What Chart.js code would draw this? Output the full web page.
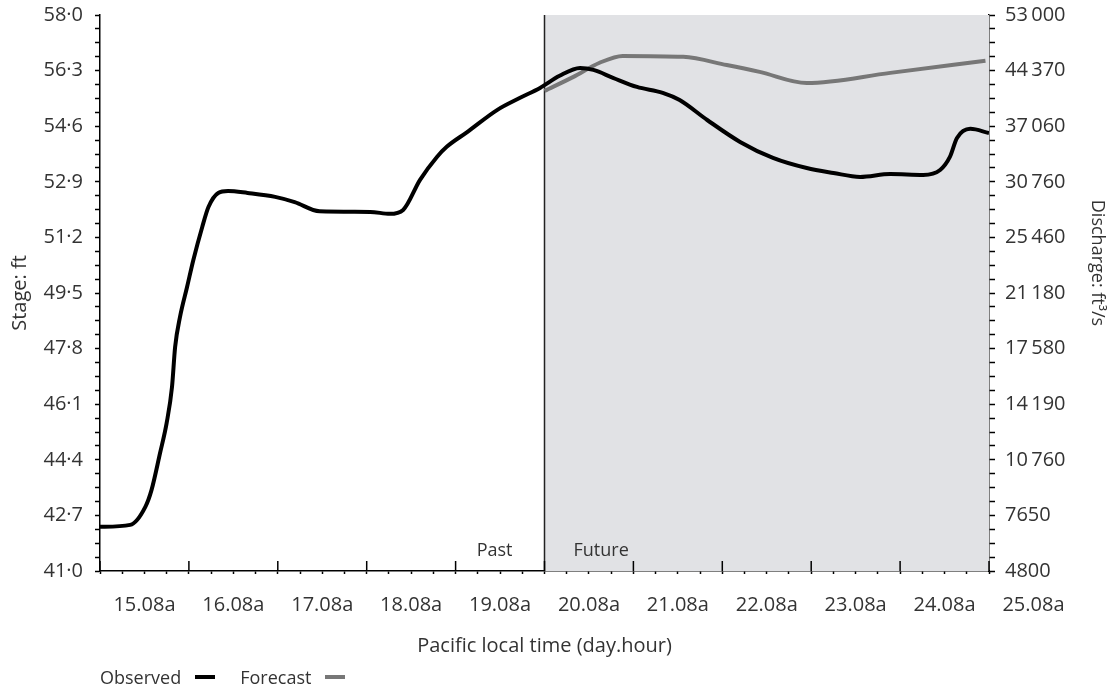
<!DOCTYPE html>
<html>
<head>
<meta charset="utf-8">
<script src="https://cdn.jsdelivr.net/npm/chart.js@4.4.1/dist/chart.umd.min.js"></script>
<style>
  html, body { margin: 0; padding: 0; background: #fff; }
  #wrap { position: relative; width: 1114px; height: 690px; }
  #legend { position: absolute; left: 100px; top: 665px; font-family: 'Open Sans', sans-serif; font-size: 18px; color: #333; display: flex; align-items: center; white-space: nowrap; }
  #legend .ln { display: inline-block; width: 20px; height: 4px; margin-left: 14px; }
  #legend .gap { margin-left: 25px; }
</style>
</head>
<body>
<div id="wrap">
  <canvas id="c" width="1114" height="690"></canvas>
  <div id="legend"><span>Observed</span><span class="ln" style="background:#000"></span><span class="gap">Forecast</span><span class="ln" style="background:#777"></span></div>
</div>
<script>
// ---- data ----
const DAY_LABELS = ['15.08a','16.08a','17.08a','18.08a','19.08a','20.08a','21.08a','22.08a','23.08a','24.08a','25.08a'];
const STAGE_TICKS = [41.0, 42.7, 44.4, 46.1, 47.8, 49.5, 51.2, 52.9, 54.6, 56.3, 58.0];
const DISCHARGE_LABELS = ['4800','7650','10\u2009760','14\u2009190','17\u2009580','21\u2009180','25\u2009460','30\u2009760','37\u2009060','44\u2009370','53\u2009000'];

const OBS_DAY   = [0.00, 0.34, 0.51, 0.58, 0.675, 0.75, 0.81, 0.845, 0.90, 0.98, 1.05, 1.15, 1.22, 1.33, 1.44, 1.66, 1.97, 2.19, 2.47, 3.04, 3.26, 3.41, 3.60, 3.79, 3.90, 4.13, 4.47, 4.72, 4.95, 5.17, 5.40, 5.55, 5.77, 6.04, 6.33, 6.52, 6.83, 7.20, 7.57, 7.95, 8.25, 8.55, 8.89, 9.26, 9.45, 9.56, 9.64, 9.79, 10.0];
const OBS_STAGE = [42.35, 42.41, 42.96, 43.48, 44.6, 45.53, 46.63, 47.85, 48.77, 49.69, 50.51, 51.52, 52.13, 52.56, 52.62, 52.56, 52.44, 52.28, 52.0, 51.98, 51.92, 52.04, 52.96, 53.66, 53.97, 54.42, 55.1, 55.46, 55.77, 56.14, 56.38, 56.32, 56.08, 55.8, 55.62, 55.4, 54.79, 54.12, 53.63, 53.32, 53.17, 53.05, 53.14, 53.11, 53.26, 53.66, 54.24, 54.52, 54.39];

const FC_DAY   = [5.0, 5.32, 5.62, 5.88, 6.56, 7.05, 7.42, 7.95, 8.89, 9.96];
const FC_STAGE = [55.68, 56.1, 56.54, 56.75, 56.72, 56.47, 56.26, 55.92, 56.23, 56.6];

const FUTURE_START = 5.0;
const X_MIN = 0, X_MAX = 10;

// ---- chart ----
Chart.defaults.font.family = "'Open Sans', sans-serif";
Chart.defaults.font.size = 20;
Chart.defaults.color = '#333';

const toXY = (xs, ys) => xs.map((x, i) => ({ x: x, y: ys[i] }));

function stageTicksWithMinor() {
  const t = [];
  for (let i = 0; i < STAGE_TICKS.length; i++) {
    t.push({ value: STAGE_TICKS[i] });
    if (i < STAGE_TICKS.length - 1) {
      const a = STAGE_TICKS[i], b = STAGE_TICKS[i + 1];
      for (let k = 1; k < 4; k++) t.push({ value: a + (b - a) * k / 4 });
    }
  }
  return t;
}
function noPad(s) { s.paddingTop = 0; s.paddingBottom = 0; s.paddingLeft = 0; s.paddingRight = 0; }

const futurePlugin = {
  id: 'future',
  beforeDatasetsDraw(chart) {
    const { ctx, chartArea: a, scales } = chart;
    const x0 = scales.x.getPixelForValue(FUTURE_START);
    ctx.save();
    ctx.fillStyle = '#e1e2e5';
    ctx.fillRect(x0, a.top, a.right - x0, a.bottom - a.top);
    ctx.strokeStyle = '#222';
    ctx.lineWidth = 1.5;
    ctx.beginPath();
    ctx.moveTo(x0, a.top);
    ctx.lineTo(x0, a.bottom);
    ctx.stroke();
    ctx.fillStyle = '#333';
    ctx.font = "18px 'Open Sans', sans-serif";
    ctx.textBaseline = 'middle';
    ctx.textAlign = 'right';
    ctx.fillText('Past', x0 - 32, a.bottom - 20);
    ctx.textAlign = 'left';
    ctx.fillText('Future', x0 + 29, a.bottom - 20);
    ctx.restore();
  },
  afterDraw(chart) {
    const { ctx, chartArea: a, scales } = chart;
    ctx.save();
    ctx.strokeStyle = '#000';
    ctx.lineWidth = 1.5;
    for (let d = X_MIN; d <= X_MAX; d++) {
      const px = scales.x.getPixelForValue(d);
      ctx.beginPath();
      ctx.moveTo(px, a.bottom - 10);
      ctx.lineTo(px, a.bottom);
      ctx.stroke();
    }
    // right axis title
    ctx.fillStyle = '#333';
    ctx.font = "18px 'Open Sans', sans-serif";
    ctx.textAlign = 'center';
    ctx.textBaseline = 'middle';
    ctx.translate(1097, 263);
    ctx.rotate(Math.PI / 2);
    ctx.fillText('Discharge: ft\u00B3/s', 0, 0);
    ctx.restore();
  }
};

new Chart(document.getElementById('c'), {
  type: 'line',
  data: {
    datasets: [
      { label: 'Observed', data: toXY(OBS_DAY, OBS_STAGE), borderColor: '#000', borderWidth: 4, pointRadius: 0, tension: 0.4, cubicInterpolationMode: 'monotone', yAxisID: 'y' },
      { label: 'Forecast', data: toXY(FC_DAY, FC_STAGE), borderColor: '#777', borderWidth: 4, pointRadius: 0, tension: 0.3, cubicInterpolationMode: 'monotone', yAxisID: 'y' }
    ]
  },
  options: {
    responsive: false,
    animation: false,
    layout: { padding: { top: 15, left: 0, right: 0, bottom: 0 } },
    plugins: { legend: { display: false }, tooltip: { enabled: false } },
    scales: {
      x: {
        type: 'linear', min: X_MIN, max: X_MAX,
        afterBuildTicks(s) { const t = []; for (let i = 0; i <= 40; i++) t.push({ value: X_MIN + i * 0.25 }); s.ticks = t; },
        afterFit(s) { s.height = 119; noPad(s); },
        ticks: {
          autoSkip: false, maxRotation: 0, padding: 19, labelOffset: 44.45,
          callback(v, i) { return i % 4 === 0 ? DAY_LABELS[i / 4] : ''; }
        },
        grid: { drawOnChartArea: false, tickLength: 3, color: '#000', tickWidth: 1.5 },
        border: { color: '#000', width: 1.5 },
        title: { display: true, text: 'Pacific local time (day.hour)', padding: { top: 0, bottom: 32 } }
      },
      y: {
        type: 'linear', position: 'left', min: 41, max: 58,
        afterBuildTicks(s) { s.ticks = stageTicksWithMinor(); },
        afterFit(s) { s.width = 100; noPad(s); },
        ticks: {
          autoSkip: false, padding: 12,
          callback(v, i) { return i % 4 === 0 ? STAGE_TICKS[i / 4].toFixed(1).replace('.', '\u00B7') : ''; }
        },
        grid: { drawOnChartArea: false, tickLength: 5, color: '#000', tickWidth: 1.5 },
        border: { color: '#000', width: 1.5 },
        title: { display: true, text: 'Stage: ft', padding: { top: 8, bottom: 0 } }
      },
      y2: {
        type: 'linear', position: 'right', min: 41, max: 58,
        afterBuildTicks(s) { s.ticks = stageTicksWithMinor(); },
        afterFit(s) { s.width = 125; noPad(s); },
        ticks: {
          autoSkip: false, padding: 10,
          callback(v, i) { return i % 4 === 0 ? DISCHARGE_LABELS[i / 4] : ''; }
        },
        grid: { drawOnChartArea: false, tickLength: 6, color: '#000', tickWidth: 1.5 },
        border: { color: '#000', width: 1.5 }
      }
    }
  },
  plugins: [futurePlugin]
});
</script>
</body>
</html>
